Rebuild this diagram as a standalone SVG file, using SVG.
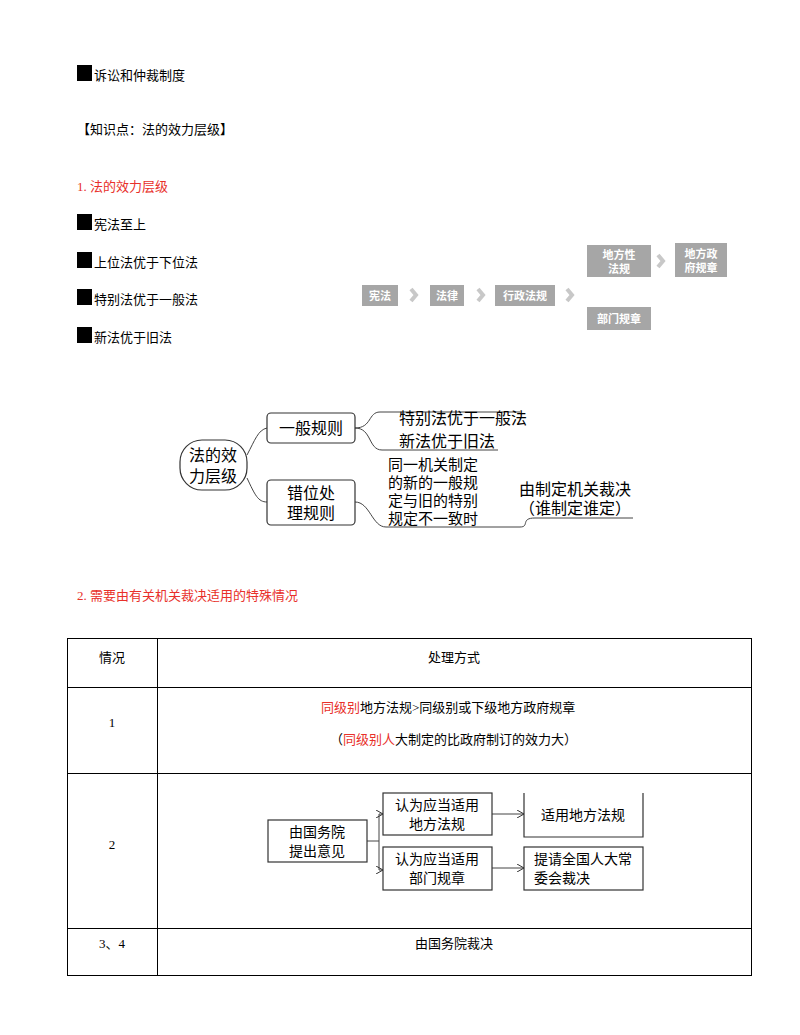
<svg xmlns="http://www.w3.org/2000/svg" width="800" height="1035" viewBox="0 0 800 1035">
<style>
text{font-family:"Liberation Serif","Noto Sans CJK SC",serif;font-size:13px;fill:#000}
.r{fill:#e8302a}
.g rect{fill:#a6a6a6}
.g text{font-family:"Noto Sans CJK SC",sans-serif;font-size:11px;fill:#fff;font-weight:bold;text-anchor:middle}
.ch{fill:none;stroke:#c8c8c8;stroke-width:4}
.m{font-family:"Noto Sans CJK SC",sans-serif;font-size:16px}
.s{font-size:15px}
.mb{fill:#fff;stroke:#333;stroke-width:1.2}
.ln{fill:none;stroke:#444;stroke-width:1}
.f{font-family:"Noto Sans CJK SC",sans-serif;font-size:14px;text-anchor:middle}
.t{fill:none;stroke:#000;stroke-width:1}
</style>
<defs><marker id="a" markerWidth="8" markerHeight="8" refX="7" refY="4" orient="auto"><path d="M0,0 L7,4 L0,8" fill="none" stroke="#333"/></marker></defs>
<rect x="77" y="65" width="15" height="16"/><text x="94" y="80">诉讼和仲裁制度</text>
<text x="77" y="134">【知识点：法的效力层级】</text>
<text x="77" y="191" class="r">1.  法的效力层级</text>
<rect x="77" y="214" width="15" height="16"/><text x="94" y="229">宪法至上</text>
<rect x="77" y="252" width="15" height="16"/><text x="94" y="267">上位法优于下位法</text>
<rect x="77" y="289" width="15" height="16"/><text x="94" y="304">特别法优于一般法</text>
<rect x="77" y="327" width="15" height="16"/><text x="94" y="342">新法优于旧法</text>
<g class="g">
<g id="n1"><rect x="362" y="285" width="36" height="21"/><text x="380" y="300">宪法</text></g>
<g id="n2"><rect x="430" y="285" width="34" height="21"/><text x="447" y="300">法律</text></g>
<g id="n3"><rect x="495" y="285" width="60" height="21"/><text x="525" y="300">行政法规</text></g>
<g id="n4"><rect x="587" y="245" width="64" height="32"/><text x="619" y="259">地方性</text><text x="619" y="273">法规</text></g>
<g id="n5"><rect x="675" y="243" width="52" height="34"/><text x="701" y="258">地方政</text><text x="701" y="272">府规章</text></g>
<g id="n6"><rect x="587" y="307" width="64" height="23"/><text x="619" y="323">部门规章</text></g>
</g>
<g id="chev"><path class="ch" d="M411,289l5,6l-5,6M478,289l5,6l-5,6M567,289l5,6l-5,6M658,255l5,6l-5,6"/></g>
<g id="mind">
<path class="ln" d="M247,455 C255,440 258,430 267,428 M247,478 C255,495 258,502 267,502 M355,428 C372,428 368,412 380,412 L520,412 M355,428 C372,428 368,450 382,450 L498,450 M355,502 C370,502 372,527 386,527 L520,527 C530,527 520,518 535,518 L633,518"/>
<rect class="mb" x="180" y="440" width="67" height="50" rx="22"/>
<text class="m" x="213" y="461" text-anchor="middle">法的效</text><text class="m" x="213" y="482" text-anchor="middle">力层级</text>
<rect class="mb" x="267" y="413" width="88" height="30" rx="4"/><text class="m" x="311" y="434" text-anchor="middle">一般规则</text>
<rect class="mb" x="267" y="480" width="88" height="45" rx="4"/><text class="m" x="311" y="499" text-anchor="middle">错位处</text><text class="m" x="311" y="519" text-anchor="middle">理规则</text>
<text class="m" x="399" y="424">特别法优于一般法</text>
<text class="m" x="399" y="447">新法优于旧法</text>
<text class="m s" x="388" y="470">同一机关制定</text>
<text class="m s" x="388" y="488">的新的一般规</text>
<text class="m s" x="388" y="506">定与旧的特别</text>
<text class="m s" x="388" y="524">规定不一致时</text>
<text class="m" x="575" y="495" text-anchor="middle">由制定机关裁决</text>
<text class="m" x="575" y="514" text-anchor="middle">（谁制定谁定）</text>
</g>
<text x="77" y="600" class="r">2.  需要由有关机关裁决适用的特殊情况</text>
<g id="table">
<rect class="t" x="67.5" y="638.5" width="684" height="337"/>
<path class="t" d="M157.5,638v337M67,687.5h684M67,773.5h684M67,928.5h684"/>
<text x="112" y="662" text-anchor="middle">情况</text>
<text x="454" y="662" text-anchor="middle">处理方式</text>
<text x="112" y="727" text-anchor="middle">1</text>
<text x="321" y="712"><tspan class="r">同级别</tspan>地方法规&gt;同级别或下级地方政府规章</text>
<text x="330" y="744">（<tspan class="r">同级别人</tspan>大制定的比政府制订的效力大）</text>
<text x="112" y="849" text-anchor="middle">2</text>
<text x="112" y="948" text-anchor="middle">3、4</text>
<text x="454" y="948" text-anchor="middle">由国务院裁决</text>
</g>
<g id="flow">
<path class="ln" d="M367,841h12M379,814v56M379,814h4" marker-end="url(#a)"/>
<path class="ln" d="M379,870h4" marker-end="url(#a)"/>
<path class="ln" d="M492,814h32" marker-end="url(#a)"/>
<path class="ln" d="M492,868h32" marker-end="url(#a)"/>
<rect class="mb" x="268" y="820" width="99" height="42"/><text class="f" x="317" y="837">由国务院</text><text class="f" x="317" y="856">提出意见</text>
<rect class="mb" x="383" y="793" width="109" height="42"/><text class="f" x="437" y="810">认为应当适用</text><text class="f" x="437" y="829">地方法规</text>
<rect class="mb" x="383" y="847" width="109" height="43"/><text class="f" x="437" y="864">认为应当适用</text><text class="f" x="437" y="883">部门规章</text>
<path class="mb" fill="none" d="M524,793v44h119v-44"/><text class="f" x="583" y="820">适用地方法规</text>
<rect class="mb" x="524" y="847" width="119" height="43"/><text class="f" x="583" y="864">提请全国人大常</text><text class="f" x="562" y="883">委会裁决</text>
</g>
</svg>
